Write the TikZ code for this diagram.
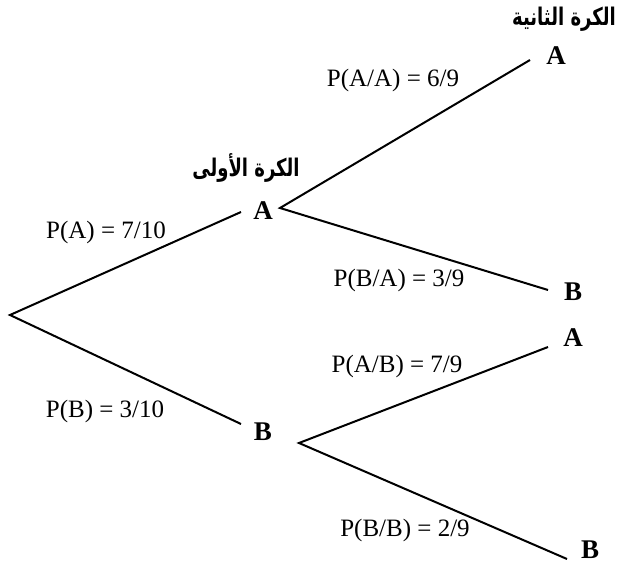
\documentclass[tikz,border=0pt]{standalone}
\usepackage{fontspec}
\usepackage{graphicx}
\setmainfont{Liberation Serif}
\newfontfamily\arabicfont[Script=Arabic]{DejaVu Sans}
\TeXXeTstate=1
\begin{document}
\begin{tikzpicture}[x=1pt,y=-1pt,
  branch/.style={line width=2pt},
  outcome/.style={font=\fontsize{27}{30}\selectfont\bfseries, inner sep=0pt},
  prob/.style={font=\fontsize{25}{28}\selectfont, inner sep=0pt},
  stage/.style={font=\arabicfont\fontsize{18}{22}\selectfont\bfseries, inner sep=0pt}]
\useasboundingbox (0,0) rectangle (618,564);
% outcomes
\node[outcome] (A1) at (263,211) {A};
\node[outcome] (B1) at (263,432) {B};
\node[outcome] (AA) at (556,56) {A};
\node[outcome] (AB) at (573,292) {B};
\node[outcome] (BA) at (573,338) {A};
\node[outcome] (BB) at (590,550) {B};
% branch points
\coordinate (R) at (10,315);
\coordinate (A1in) at (241,212);
\coordinate (A1out) at (280,208);
\coordinate (B1in) at (241,424);
\coordinate (B1out) at (299,443);
\coordinate (AAin) at (530,60);
\coordinate (ABin) at (548,290);
\coordinate (BAin) at (548,347);
\coordinate (BBin) at (567,559);
% branches
\draw[branch] (A1in) -- (R) -- (B1in);
\draw[branch] (AAin) -- (A1out) -- (ABin);
\draw[branch] (BAin) -- (B1out) -- (BBin);
% probabilities
\node[prob] (pA) at (106,232) {P(A) = 7/10};
\node[prob] (pB) at (105,411) {P(B) = 3/10};
\node[prob] (pAA) at (393,80) {P(A/A) = 6/9};
\node[prob] (pBA) at (399,280) {P(B/A) = 3/9};
\node[prob] (pAB) at (397,366) {P(A/B) = 7/9};
\node[prob] (pBB) at (405,530) {P(B/B) = 2/9};
% stage labels
\node[stage] (s1) at (246,168) {\scalebox{1}[1.35]{\beginR الكرة الأولى\endR}};
\node[stage] (s2) at (564,19) {\scalebox{1}[1.35]{\beginR الكرة الثانية\endR}};
\end{tikzpicture}
\end{document}
